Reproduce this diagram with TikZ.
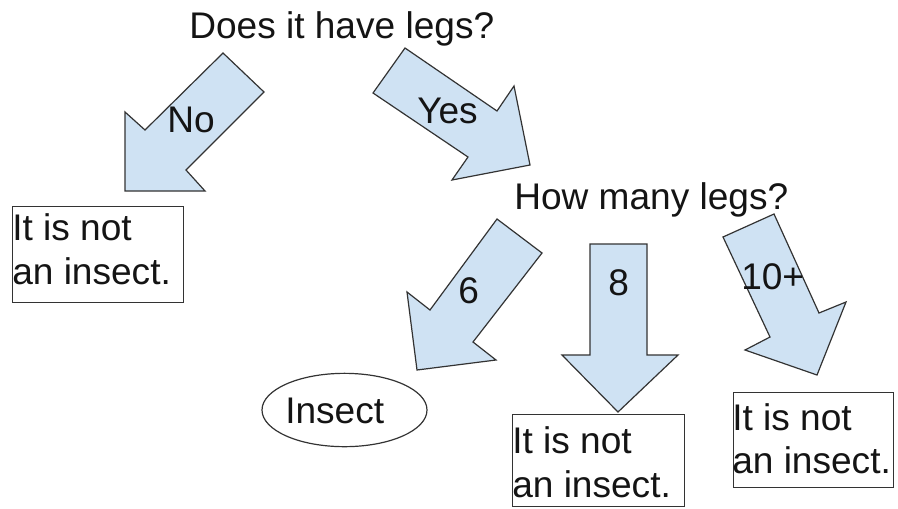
\documentclass[tikz,border=0pt]{standalone}
\usepackage{fontspec}
\setmainfont{Liberation Sans}
\usetikzlibrary{shapes.geometric}
\definecolor{arrowfill}{HTML}{CFE2F3}
\definecolor{edge}{HTML}{333333}
\tikzset{
  blockarrow/.style={draw=edge, fill=arrowfill, line width=0.9pt, line join=miter},
  txt/.style={anchor=base west, inner sep=0pt, font=\fontsize{27.8}{32}\selectfont, text=black!92},
  answerbox/.style={draw=edge, line width=0.9pt, anchor=north west, inner sep=0pt},
  leaf/.style={ellipse, draw=edge, line width=0.9pt, inner sep=0pt},
}
\begin{document}
\begin{tikzpicture}[x=0.75pt,y=-0.75pt]
\useasboundingbox (0,0) rectangle (898,508);

% questions
\node[txt] (q1) at (189,38) {Does it have legs?};
\node[txt] (q2) at (514,209) {How many legs?};

% block arrows
\draw[blockarrow] (223,53) -- (264,92) -- (186,170) -- (205,191) -- (125,191) -- (125,112) -- (145,130) -- cycle;
\draw[blockarrow] (405,48) -- (497,111) -- (514,86) -- (530,165) -- (452,180) -- (468,157) -- (373,93) -- cycle;
\draw[blockarrow] (497,219) -- (542,253) -- (473,342) -- (496,360) -- (417,370) -- (407,292) -- (430,310) -- cycle;
\draw[blockarrow] (590,244) -- (647,244) -- (647,355) -- (678,355) -- (618,412) -- (562,355) -- (590,355) -- cycle;
\draw[blockarrow] (723,237) -- (774,214) -- (819,313) -- (846,302) -- (817,375) -- (745,350) -- (770,337) -- cycle;

% arrow labels
\node[txt] (lno)  at (167,132) {No};
\node[txt] (lyes) at (417,123) {Yes};
\node[txt] (lsix) at (458,303) {6};
\node[txt] (leight) at (608,295) {8};
\node[txt] (lten) at (741,289) {10+};

% answers
\node[answerbox, minimum width=128.25pt, minimum height=72pt] (b1) at (12,206) {};
\node[txt] (b1a) at (12,240) {It is not};
\node[txt] (b1b) at (12,284) {an insect.};

\node[leaf, minimum width=123.75pt, minimum height=55pt] (insect) at (344.5,410) {};
\node[txt] (insectlabel) at (285,423) {Insect};

\node[answerbox, minimum width=129pt, minimum height=69pt] (b2) at (512,414) {};
\node[txt] (b2a) at (512,453) {It is not};
\node[txt] (b2b) at (512,497) {an insect.};

\node[answerbox, minimum width=120pt, minimum height=71.25pt] (b3) at (733,392) {};
\node[txt] (b3a) at (732,430) {It is not};
\node[txt] (b3b) at (732,473) {an insect.};
\end{tikzpicture}
\end{document}
